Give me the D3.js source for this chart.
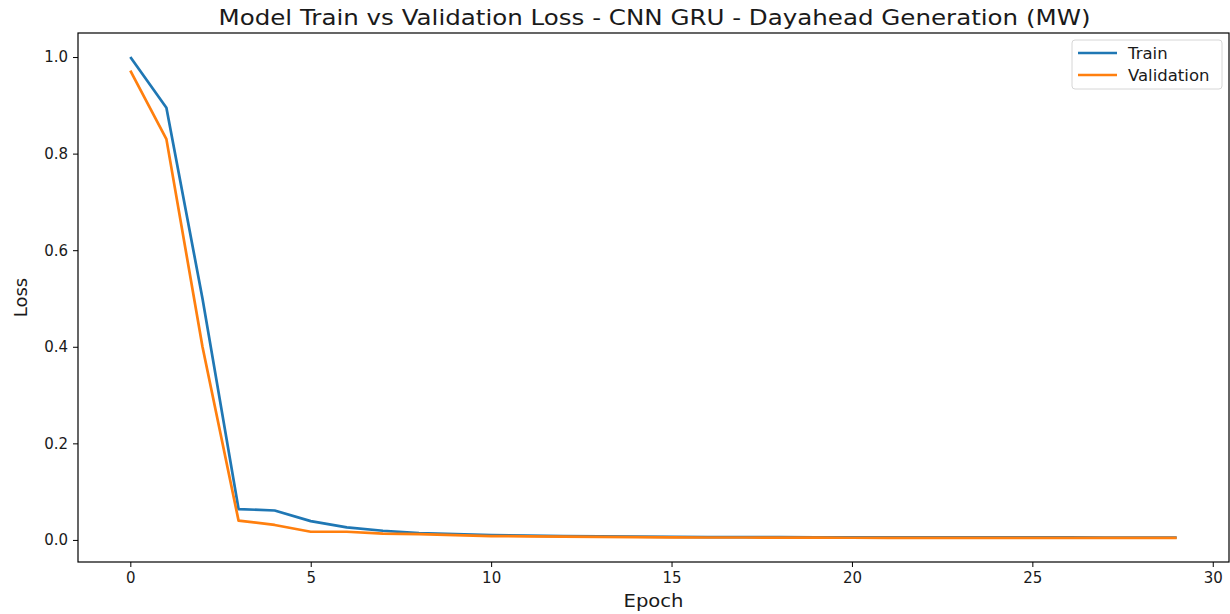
<!DOCTYPE html>
<html><head><meta charset="utf-8">
<script src="https://cdn.jsdelivr.net/npm/d3@7"></script>
<style>body{margin:0;background:#fff;} svg{display:block;} text{font-family:"DejaVu Sans",sans-serif;fill:#1a1a1a;}</style>
</head><body><svg id="c" width="1230" height="614"></svg>
<script>
const epochs = d3.range(0, 30);
const trainLoss = [1.0, 0.895, 0.50, 0.064, 0.061, 0.039, 0.026, 0.019, 0.014, 0.012, 0.010, 0.009, 0.008, 0.0075, 0.007, 0.0065, 0.006, 0.006, 0.0058, 0.0056, 0.0055, 0.0054, 0.0053, 0.0052, 0.0052, 0.0051, 0.0051, 0.005, 0.005, 0.005];
const valLoss = [0.972, 0.830, 0.40, 0.040, 0.031, 0.017, 0.017, 0.013, 0.012, 0.010, 0.008, 0.0075, 0.007, 0.0065, 0.006, 0.0055, 0.005, 0.005, 0.0048, 0.0046, 0.0045, 0.0044, 0.0043, 0.0043, 0.0042, 0.0042, 0.0042, 0.0041, 0.0041, 0.0041];
const xTicks = [0, 5, 10, 15, 20, 25, 30];
const yTicks = [0.0, 0.2, 0.4, 0.6, 0.8, 1.0];
const seriesNames = ["Train", "Validation"];
const colors = ["#1f77b4", "#ff7f0e"];
const titleText = "Model Train vs Validation Loss - CNN GRU - Dayahead Generation (MW)";

const svg = d3.select("#c");
const L = 78, R = 1229, T = 33, B = 562;
const x = d3.scaleLinear().domain([-1.45, 30.45]).range([L, R]);
const yMin = d3.min(valLoss), yMax = d3.max(trainLoss), pad = (yMax - yMin) * 0.05;
const y = d3.scaleLinear().domain([yMin - pad, yMax + pad]).range([B, T]);

const line = d3.line().x((d, i) => x(epochs[i])).y(d => y(d));
[trainLoss, valLoss].forEach((s, k) => {
  svg.append("path").datum(s).attr("d", line).attr("fill", "none")
    .attr("stroke", colors[k]).attr("stroke-width", 2.7).attr("stroke-linejoin", "round");
});

// frame
svg.append("rect").attr("x", L).attr("y", T).attr("width", R - L).attr("height", B - T)
  .attr("fill", "none").attr("stroke", "#000").attr("stroke-width", 1.2);

const xa = svg.append("g").attr("transform", `translate(0,${B})`)
  .call(d3.axisBottom(x).tickValues(xTicks).tickFormat(d3.format("d")).tickSize(5).tickPadding(5));
xa.select(".domain").remove();
const ya = svg.append("g").attr("transform", `translate(${L},0)`)
  .call(d3.axisLeft(y).tickValues(yTicks).tickFormat(d3.format(".1f")).tickSize(5).tickPadding(5));
ya.select(".domain").remove();
svg.selectAll(".tick text").attr("font-size", 15).attr("font-family", "DejaVu Sans").attr("fill", "#1a1a1a");
svg.selectAll(".tick line").attr("stroke", "#000").attr("stroke-width", 1);

svg.append("text").attr("x", (L + R) / 2 + 1).attr("y", 25).attr("text-anchor", "middle")
  .attr("font-size", 22).attr("textLength", 872).attr("lengthAdjust", "spacingAndGlyphs").text(titleText);
svg.append("text").attr("x", (L + R) / 2).attr("y", 607).attr("text-anchor", "middle")
  .attr("font-size", 18).attr("textLength", 60).attr("lengthAdjust", "spacingAndGlyphs").text("Epoch");
svg.append("text").attr("transform", `translate(27,${(T + B) / 2}) rotate(-90)`).attr("text-anchor", "middle")
  .attr("font-size", 18).text("Loss");

// legend
const lg = svg.append("g");
lg.append("rect").attr("x", 1072).attr("y", 40).attr("width", 150).attr("height", 49).attr("rx", 3)
  .attr("fill", "#fff").attr("stroke", "#d6d6d6").attr("stroke-width", 1);
seriesNames.forEach((n, k) => {
  const yy = 53 + k * 22;
  lg.append("line").attr("x1", 1078).attr("x2", 1117).attr("y1", yy).attr("y2", yy)
    .attr("stroke", colors[k]).attr("stroke-width", 2.7);
  lg.append("text").attr("x", 1128).attr("y", yy + 6).attr("font-size", 16.5).text(n);
});
</script></body></html>
